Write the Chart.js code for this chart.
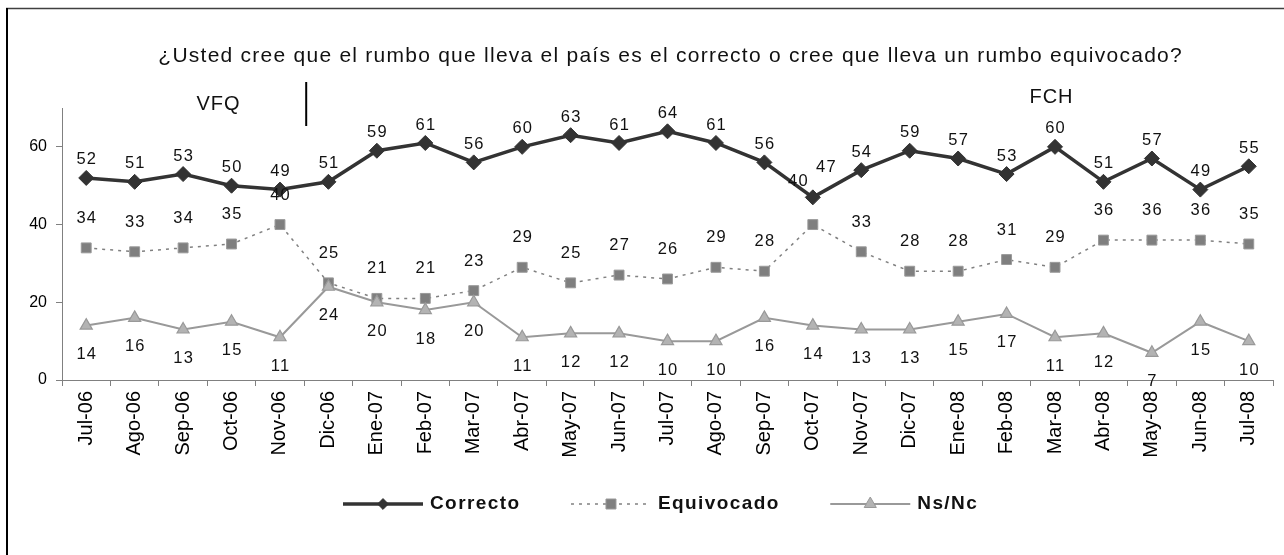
<!DOCTYPE html>
<html>
<head>
<meta charset="utf-8">
<script src="https://cdn.jsdelivr.net/npm/chart.js@4.4.1/dist/chart.umd.min.js"></script>
<style>
html,body{margin:0;padding:0;background:#fff;}
#wrap{width:1284px;height:555px;position:relative;}
canvas{display:block;}
</style>
</head>
<body>
<div id="wrap"><canvas id="c" width="1284" height="555"></canvas></div>
<script>
// ---- data ----
const categories = ['Jul-06','Ago-06','Sep-06','Oct-06','Nov-06','Dic-06','Ene-07','Feb-07','Mar-07','Abr-07','May-07','Jun-07','Jul-07','Ago-07','Sep-07','Oct-07','Nov-07','Dic-07','Ene-08','Feb-08','Mar-08','Abr-08','May-08','Jun-08','Jul-08'];
const correcto   = [52,51,53,50,49,51,59,61,56,60,63,61,64,61,56,47,54,59,57,53,60,51,57,49,55];
const equivocado = [34,33,34,35,40,25,21,21,23,29,25,27,26,29,28,40,33,28,28,31,29,36,36,36,35];
const nsnc       = [14,16,13,15,11,24,20,18,20,11,12,12,10,10,16,14,13,13,15,17,11,12,7,15,10];
const yTicks = [0,20,40,60];
const seriesNames = ['Correcto','Equivocado','Ns/Nc'];
const titleText = '¿Usted cree que el rumbo que lleva el país es el correcto o cree que lleva un rumbo equivocado?';
const periodNames = ['VFQ','FCH'];

// ---- style ----
const FAM = '"Liberation Sans", Arial, Helvetica, sans-serif';
const C_DARK = '#333333', C_MID = '#808080', C_LIGHT = '#999999';

function textW(ctx, text, spacing) {
  ctx.letterSpacing = '0px';
  const w = ctx.measureText(text).width;
  return w + spacing * ([...text].length - 1);
}
function drawText(ctx, text, x, y, font, spacing, align, color, baseline) {
  ctx.save();
  ctx.font = font;
  const w = textW(ctx, text, spacing);
  ctx.letterSpacing = spacing + 'px';
  ctx.fillStyle = color;
  ctx.textAlign = 'left';
  ctx.textBaseline = baseline || 'middle';
  let left = x;
  if (align === 'center') left = x - w / 2;
  else if (align === 'right') left = x - w;
  ctx.fillText(text, left, y);
  ctx.restore();
  return w;
}
function marker(ctx, style, x, y, fill, stroke) {
  ctx.save();
  ctx.fillStyle = fill; ctx.strokeStyle = stroke; ctx.lineWidth = 1; ctx.setLineDash([]);
  ctx.beginPath();
  if (style === 'diamond') {
    const s = 5.4;
    ctx.moveTo(x - s, y); ctx.lineTo(x, y - s); ctx.lineTo(x + s, y); ctx.lineTo(x, y + s);
  } else if (style === 'square') {
    ctx.rect(x - 5, y - 5, 10, 10);
  } else {
    const r = 7;
    ctx.moveTo(x, y - r);
    ctx.lineTo(x + Math.sin(2*Math.PI/3) * r, y - Math.cos(2*Math.PI/3) * r);
    ctx.lineTo(x + Math.sin(4*Math.PI/3) * r, y - Math.cos(4*Math.PI/3) * r);
  }
  ctx.closePath(); ctx.fill(); ctx.stroke();
  ctx.restore();
}

const labelOffsetY = [-18, -29.5, 29];
const labelOverride = { '0-15': [13, -29.5], '1-15': [-15, -43] };

const decor = {
  id: 'decor',
  beforeDraw(chart) {
    const ctx = chart.ctx;
    ctx.save(); ctx.fillStyle = '#fff'; ctx.fillRect(0, 0, chart.width, chart.height); ctx.restore();
  },
  afterDatasetsDraw(chart) {
    const ctx = chart.ctx;
    chart.data.datasets.forEach((ds, di) => {
      const meta = chart.getDatasetMeta(di);
      meta.data.forEach((pt, i) => {
        const ov = labelOverride[di + '-' + i];
        const dx = ov ? ov[0] : 0;
        const dy = ov ? ov[1] : labelOffsetY[di];
        drawText(ctx, String(Math.round(ds.data[i])), pt.x + dx, pt.y + dy, '16.5px ' + FAM, 1.2, 'center', '#111');
      });
    });
  },
  afterDraw(chart) {
    const ctx = chart.ctx;
    // frame
    ctx.save();
    ctx.strokeStyle = '#404040'; ctx.lineWidth = 1.5;
    ctx.beginPath(); ctx.moveTo(6, 8.5); ctx.lineTo(1284, 8.5); ctx.stroke();
    ctx.strokeStyle = '#000'; ctx.lineWidth = 2;
    ctx.beginPath(); ctx.moveTo(7, 8); ctx.lineTo(7, 555); ctx.stroke();
    ctx.restore();
    // title
    drawText(ctx, titleText, 670, 62, '21px ' + FAM, 1.25, 'center', '#111', 'alphabetic');
    // period annotations
    const xs = chart.scales.x;
    drawText(ctx, periodNames[0], 218, 104, '20px ' + FAM, 1, 'center', '#111');
    drawText(ctx, periodNames[1], 1051, 97, '20px ' + FAM, 1, 'center', '#111');
    const divX = (xs.getPixelForValue(4) + xs.getPixelForValue(5)) / 2 + 2;
    ctx.save(); ctx.strokeStyle = '#000'; ctx.lineWidth = 2;
    ctx.beginPath(); ctx.moveTo(divX, 82); ctx.lineTo(divX, 126); ctx.stroke(); ctx.restore();
    // legend
    const ly = 504;
    const lfont = 'bold 19px ' + FAM;
    const styles = [
      { color: C_DARK, width: 3.5, dash: [], mk: 'diamond', fill: C_DARK, stroke: C_DARK },
      { color: C_MID, width: 1.5, dash: [3, 5], mk: 'square', fill: '#7f7f7f', stroke: '#9a9a9a' },
      { color: C_LIGHT, width: 2, dash: [], mk: 'triangle', fill: '#b3b3b3', stroke: '#999999' }
    ];
    let x = 343;
    seriesNames.forEach((name, i) => {
      const st = styles[i];
      ctx.save();
      ctx.strokeStyle = st.color; ctx.lineWidth = st.width; ctx.setLineDash(st.dash);
      ctx.beginPath(); ctx.moveTo(x, ly); ctx.lineTo(x + 80, ly); ctx.stroke();
      ctx.restore();
      marker(ctx, st.mk, x + 40, ly, st.fill, st.stroke);
      const w = drawText(ctx, name, x + 87, ly, lfont, 1.4, 'left', '#111');
      x = x + 87 + w + 52;
    });
  }
};

new Chart(document.getElementById('c'), {
  type: 'line',
  data: {
    labels: categories,
    datasets: [
      { label: seriesNames[0], data: correcto, order: 0,
        borderColor: C_DARK, backgroundColor: C_DARK, borderWidth: 3.5,
        pointStyle: 'rectRot', pointRadius: 7.5, pointBorderWidth: 1,
        pointBackgroundColor: C_DARK, pointBorderColor: C_DARK, tension: 0 },
      { label: seriesNames[1], data: equivocado, order: 2,
        borderColor: C_MID, backgroundColor: '#7f7f7f', borderWidth: 1.5, borderDash: [3, 5],
        pointStyle: 'rect', pointRadius: 7, pointBorderWidth: 1,
        pointBackgroundColor: '#7f7f7f', pointBorderColor: '#9a9a9a', tension: 0 },
      { label: seriesNames[2], data: nsnc, order: 1,
        borderColor: C_LIGHT, backgroundColor: '#b3b3b3', borderWidth: 2,
        pointStyle: 'triangle', pointRadius: 7, pointBorderWidth: 1.2,
        pointBackgroundColor: '#b3b3b3', pointBorderColor: '#999999', tension: 0 }
    ]
  },
  options: {
    responsive: false, animation: false, devicePixelRatio: 1, events: [],
    layout: { padding: { top: 108, right: 11, bottom: 0, left: 0 } },
    plugins: { legend: { display: false }, title: { display: false }, tooltip: { enabled: false } },
    scales: {
      x: {
        type: 'category', offset: true,
        grid: { offset: true, drawOnChartArea: false, drawTicks: true, tickLength: 6, color: C_MID, lineWidth: 1 },
        border: { display: true, color: C_MID, width: 1 },
        ticks: { autoSkip: false, minRotation: 90, maxRotation: 90, padding: 5, color: '#000',
                 font: { family: FAM, size: 20 } },
        afterFit(s) { s.height = 175; }
      },
      y: {
        min: 0, max: 70,
        ticks: { stepSize: 20, padding: 9, color: '#000', font: { family: FAM, size: 16 } },
        afterBuildTicks(s) { s.ticks = yTicks.map(v => ({ value: v })); },
        grid: { drawOnChartArea: false, drawTicks: true, tickLength: 6, color: C_MID, lineWidth: 1 },
        border: { display: true, color: C_MID, width: 1 },
        afterFit(s) { s.width = 62; }
      }
    }
  },
  plugins: [decor]
});
</script>
</body>
</html>
